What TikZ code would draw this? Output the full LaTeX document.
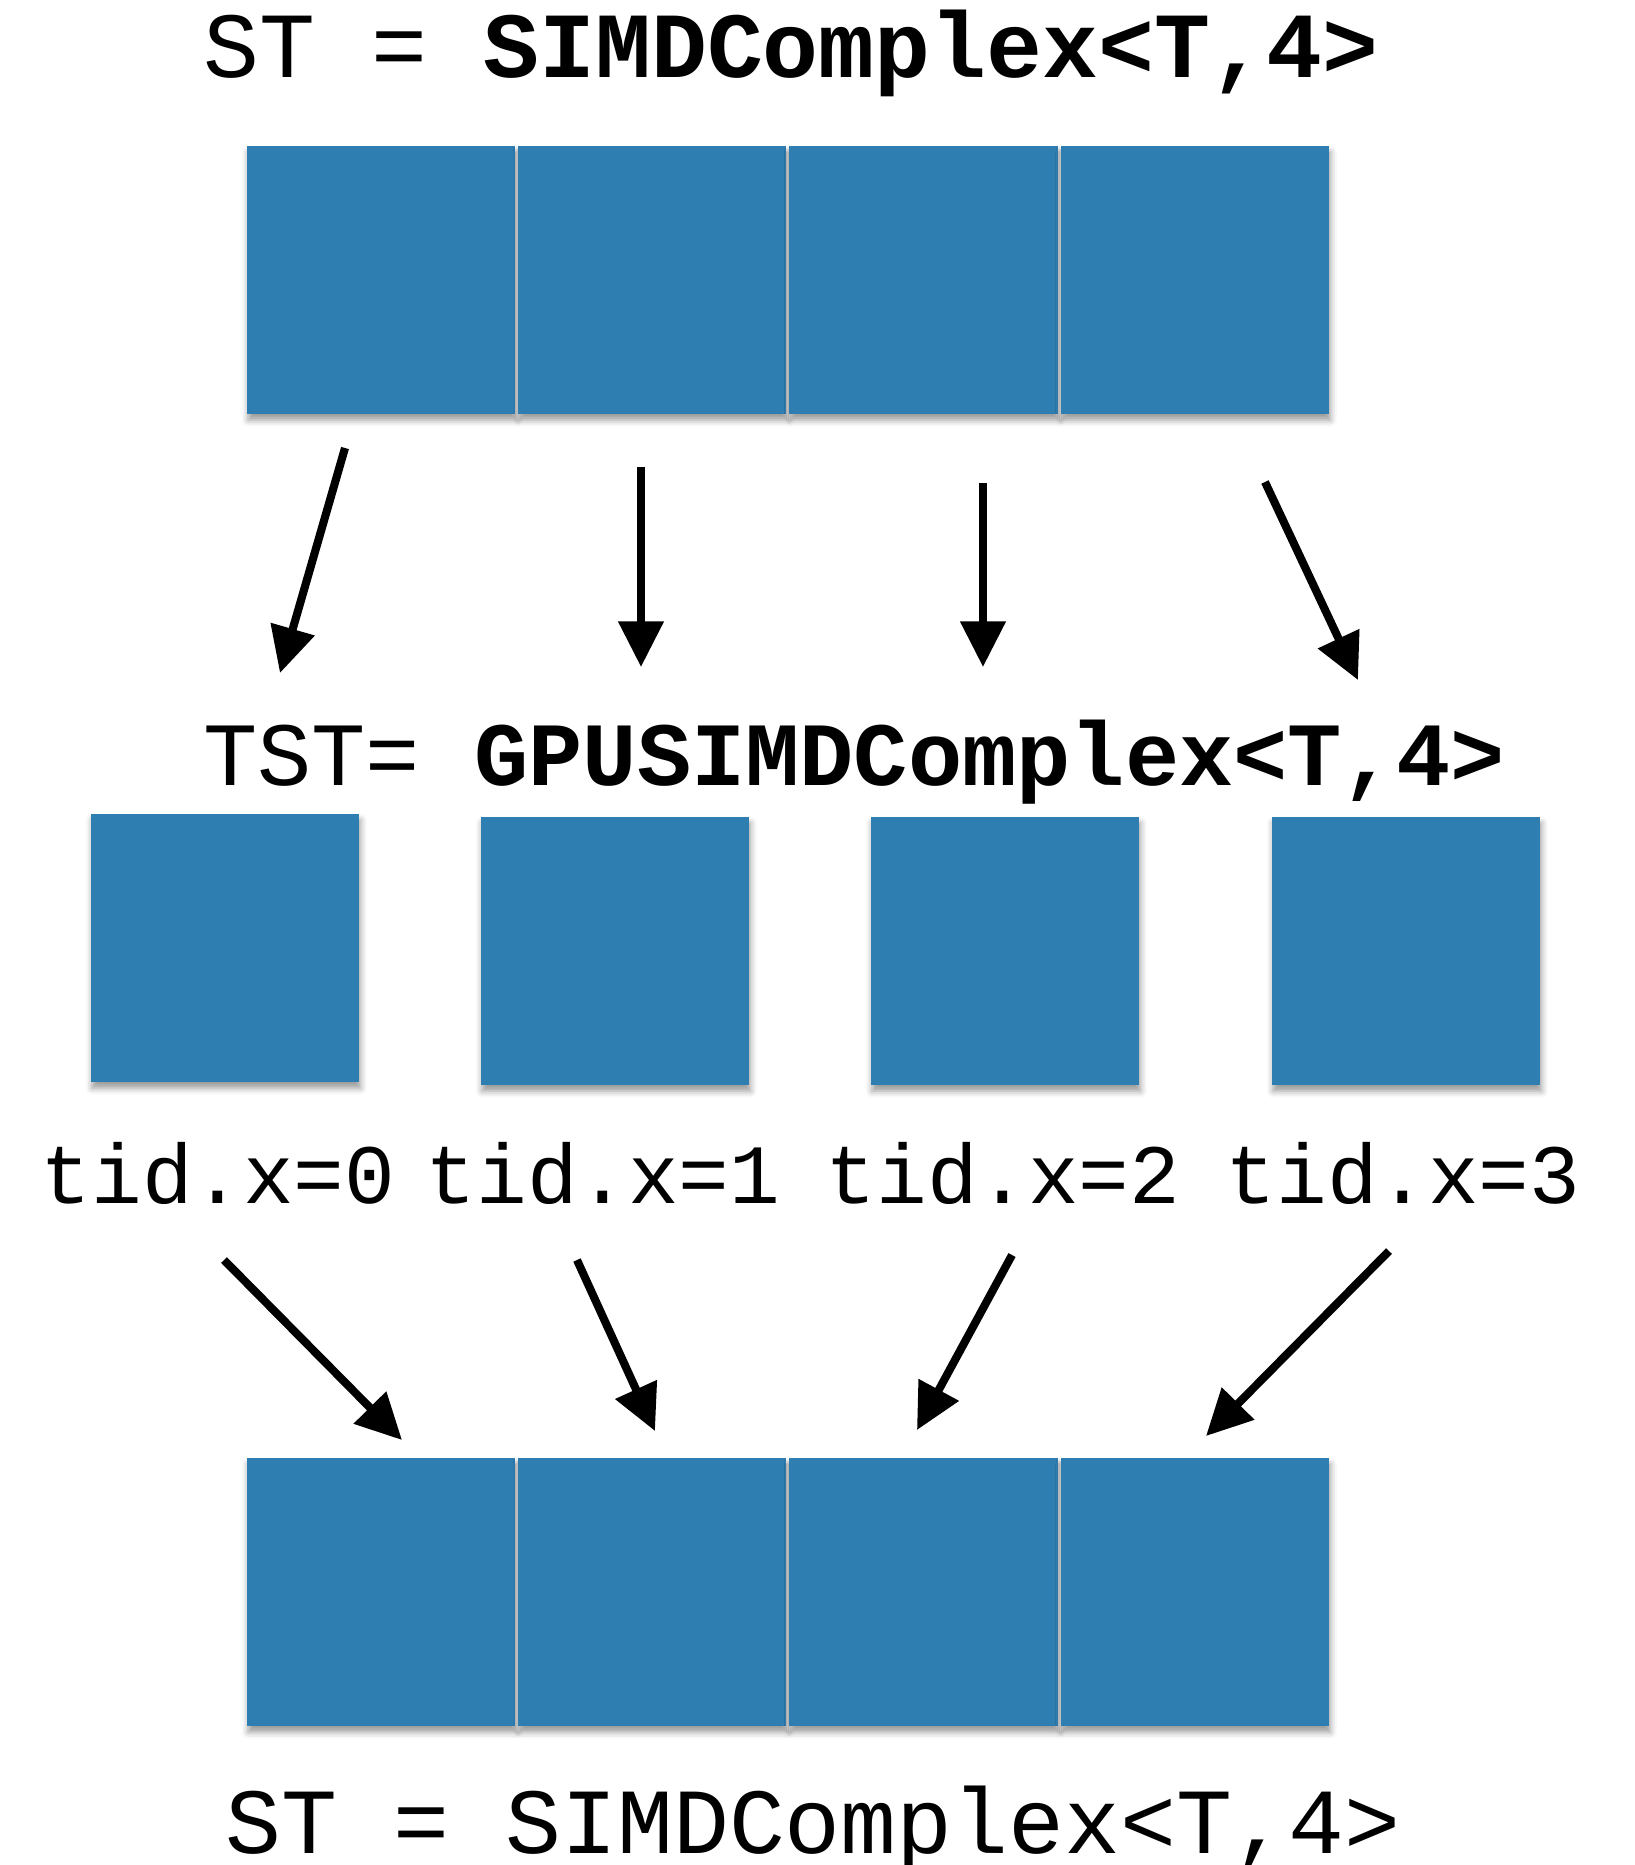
\documentclass[tikz,border=0pt]{standalone}
\usepackage{fontspec}
\setmonofont{Liberation Mono}
\usetikzlibrary{arrows.meta,shadows.blur}
\definecolor{cellblue}{RGB}{46,126,177}
\begin{document}
\begin{tikzpicture}[x=0.01cm,y=-0.01cm,
  cell/.style={fill=cellblue, draw=none, inner sep=0pt, anchor=north west,
    minimum width=2.683cm, minimum height=2.68cm,
    blur shadow={shadow xshift=0.4pt, shadow yshift=-1.8pt,
      shadow blur radius=1.8pt, shadow opacity=40}},
  code/.style={font=\ttfamily\fontsize{26.5pt}{30pt}\selectfont,
    inner sep=0pt, anchor=base},
  lane/.style={code, font=\ttfamily\fontsize{24pt}{28pt}\selectfont},
  flow/.style={line width=2.3pt, -{Triangle[length=13pt,width=12.5pt]}}]
\useasboundingbox (0,0) rectangle (1635,1865);

% upper SIMD vector
\node[code] (sttop) at (791,77) {ST = \textbf{SIMDComplex<T,4>}};
\node[cell] (t0) at (246,145) {};
\node[cell] (t1) at (517.3,145) {};
\node[cell] (t2) at (788.6,145) {};
\node[cell] (t3) at (1059.9,145) {};

% per-thread lanes
\node[code, font=\ttfamily\fontsize{25.7pt}{30pt}\selectfont] (tst) at (854,785)
  {TST= \textbf{GPUSIMDComplex<T,4>}};
\node[cell] (m0) at (90,813) {};
\node[cell] (m1) at (480,816) {};
\node[cell] (m2) at (870,816) {};
\node[cell] (m3) at (1271,816) {};
\node[lane] (id0) at (218,1203) {tid.x=0};
\node[lane] (id1) at (603,1203) {tid.x=1};
\node[lane] (id2) at (1003,1203) {tid.x=2};
\node[lane] (id3) at (1403,1203) {tid.x=3};

% lower SIMD vector
\node[cell] (b0) at (246,1457) {};
\node[cell] (b1) at (517.3,1457) {};
\node[cell] (b2) at (788.6,1457) {};
\node[cell] (b3) at (1059.9,1457) {};
\node[code] (stbot) at (813,1853) {ST = SIMDComplex<T,4>};

% arrow end points
\coordinate (s0) at (345,448);   \coordinate (e0) at (280,673);
\coordinate (s1) at (641,467);   \coordinate (e1) at (641,667);
\coordinate (s2) at (983,483);   \coordinate (e2) at (983,667);
\coordinate (s3) at (1265,482);  \coordinate (e3) at (1358,680);
\coordinate (u0) at (224,1260);  \coordinate (v0) at (402,1440);
\coordinate (u1) at (577,1260);  \coordinate (v1) at (655,1431);
\coordinate (u2) at (1012,1255); \coordinate (v2) at (917,1430);
\coordinate (u3) at (1389,1251); \coordinate (v3) at (1206,1436);

\foreach \i in {0,...,3} {
  \draw[flow] (s\i) -- (e\i);
  \draw[flow] (u\i) -- (v\i);
}
\end{tikzpicture}
\end{document}
